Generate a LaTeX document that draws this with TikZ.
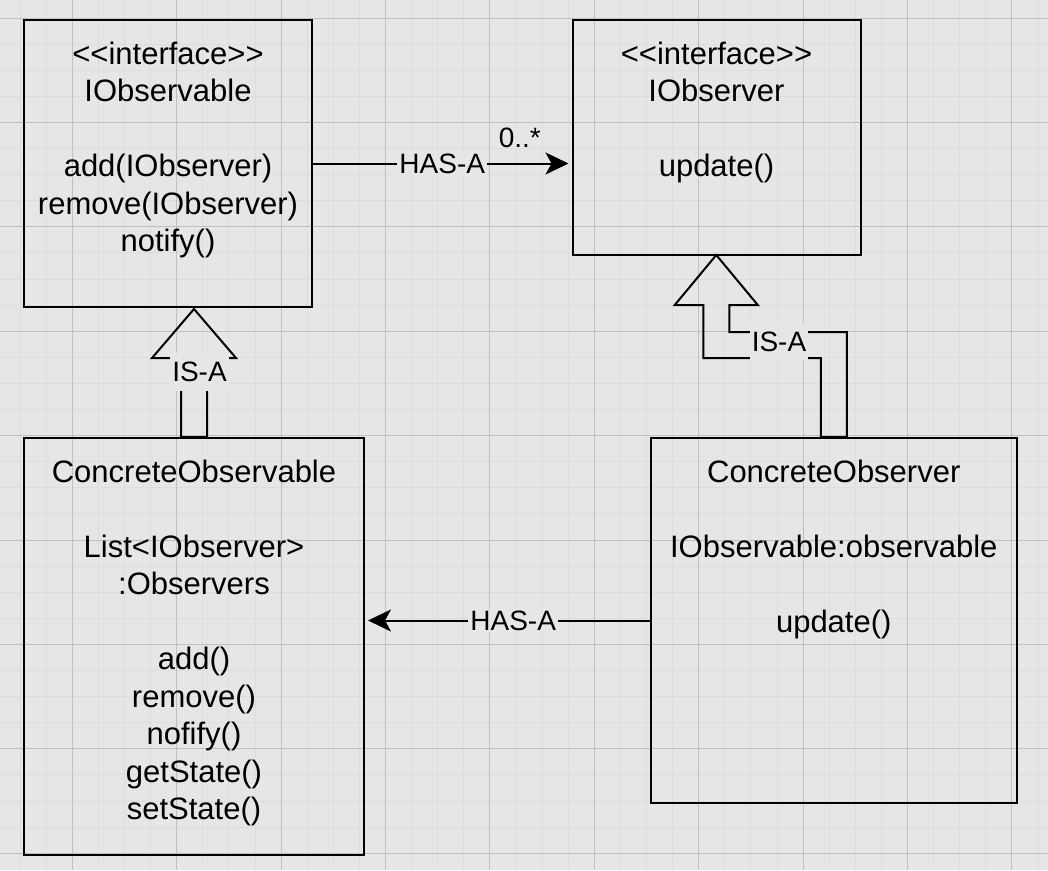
\documentclass[tikz,border=0pt]{standalone}
\usepackage{fontspec}
\newfontfamily\umlfont{Liberation Sans}
\definecolor{paper}{RGB}{230,230,230}
\definecolor{minorgrid}{RGB}{221,221,221}
\definecolor{majorgrid}{RGB}{192,192,192}
\usetikzlibrary{
	arrows.meta,
	positioning
}
\tikzset{
  % grid
	cstminor/.style    ={draw=minorgrid, line width=1pt},
	cstmajor/.style    ={draw=majorgrid, line width=1pt},
  % node
	cstbox/.style      ={draw=black, line width=2pt, anchor=north west, inner sep=0},
	csttext/.style     ={font=\umlfont\fontsize{31}{37.5}\selectfont, align=center, inner sep=0},
	cstlabel/.style    ={font=\umlfont\fontsize{28}{33.6}\selectfont, fill=paper, inner xsep=2pt, inner ysep=2pt},
	cstisalabel/.style ={cstlabel, inner ysep=9pt},
  % arrow
	csthas/.style      ={-{Stealth[length=23pt,width=22pt,inset=6pt]}, line width=2pt, shorten >=3pt},
	cstisa/.style      ={line width=2pt, line join=miter}
}
\begin{document}
\begin{tikzpicture}[x=1pt,y=-1pt]
	\fill[paper] (0,0) rectangle (1048,870);
	\useasboundingbox (0,0) rectangle (1048,870);
	% grid
	\foreach \i in {0,...,39} \draw[cstminor] ({20.1+26.1*\i},0) -- ++(0,870);
	\foreach \j in {0,...,32} \draw[cstminor] (0,{18+26.1*\j}) -- ++(1048,0);
	\foreach \i in {0,...,9} \draw[cstmajor] ({72.3+104.4*\i},0) -- ++(0,870);
	\foreach \j in {0,...,8} \draw[cstmajor] (0,{18+104.4*\j}) -- ++(1048,0);
	% classes
	\node[cstbox, minimum width=288, minimum height=287] (iobsbox) at (23,19) {};
	\node[cstbox, minimum width=288, minimum height=235] (iobrbox) at (571.5,19) {};
	\node[cstbox, minimum width=340, minimum height=417] (cobsbox) at (23,437) {};
	\node[cstbox, minimum width=365.5, minimum height=365] (cobrbox) at (650,437) {};
	\node[csttext, below=22.5pt of iobsbox.north] (iobstext)
		{<<interface>>\\IObservable\\[37.5pt]add(IObserver)\\remove(IObserver)\\notify()};
	\node[csttext, below=22.5pt of iobrbox.north] (iobrtext)
		{<<interface>>\\IObserver\\[37.5pt]update()};
	\node[csttext, below=22.5pt of cobsbox.north] (cobstext)
		{ConcreteObservable\\[37.5pt]List<IObserver>\\:Observers\\[37.5pt]add()\\remove()\\nofify()\\getState()\\setState()};
	\node[csttext, below=22.5pt of cobrbox.north] (cobrtext)
		{ConcreteObserver\\[37.5pt]IObservable:observable\\[37.5pt]update()};
	% has-a
	\draw[csthas] (iobsbox.east) -- (iobsbox.east -| iobrbox.west)
		node[cstlabel, midway] (hastoplabel) {HAS-A}
		node[cstlabel, pos=0.8, inner sep=0, anchor=south, yshift=15pt] (multlabel) {0..*};
	\draw[csthas] (cobrbox.west) -- (cobrbox.west -| cobsbox.east)
		node[cstlabel, pos=0.48] (hasbottomlabel) {HAS-A};
	% is-a
	\draw[cstisa] ([xshift=-13pt]cobsbox.north) -- ++(0,-79) -- ++(-29,0) -- ++(42,-49)
		-- ++(42,49) -- ++(-29,0) -- ++(0,79) -- cycle;
	\node[cstisalabel] (isaleftlabel) at (199.5,372) {IS-A};
	\draw[cstisa] ([xshift=-13pt]cobrbox.north) -- ++(0,-79) -- ++(-117.5,0) -- ++(0,-53)
		-- ++(-28.5,0) -- ++(41.5,-50) -- ++(41.5,50) -- ++(-28.5,0) -- ++(0,27)
		-- ++(117.5,0) -- ++(0,105) -- cycle;
	\node[cstisalabel] (isarightlabel) at (779,342) {IS-A};
\end{tikzpicture}
\end{document}
